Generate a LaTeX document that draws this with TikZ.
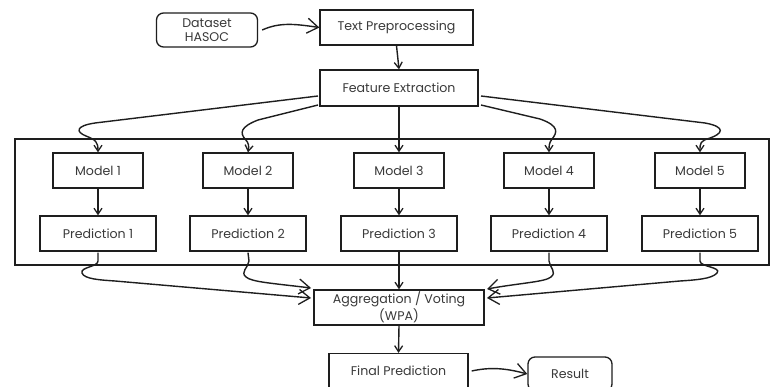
\documentclass[tikz,border=0pt]{standalone}
\usepackage{fontspec}
\setmainfont{Poppins}
\usetikzlibrary{arrows.meta}
\definecolor{ink}{HTML}{1E1E1E}
\definecolor{txt}{HTML}{3A3A3A}
\tikzset{
  box/.style={draw=ink, line width=1.3pt, minimum height=35pt, inner sep=0pt, font=\fontsize{12.6}{14.5}\selectfont, text=txt, align=center},
  rbox/.style={box, rounded corners=7pt},
  conn/.style={draw=ink, line width=1.4pt, -{Straight Barb[length=6pt,width=8pt,line width=1.3pt]}},
  bigconn/.style={draw=ink, line width=1.4pt, -{Straight Barb[length=11pt,width=15pt,line width=1.3pt]}},
}
\begin{document}
\begin{tikzpicture}[x=1pt,y=-1pt]
\useasboundingbox (0,0) rectangle (770,387);
\fill[white] (0,0) rectangle (770,387);
% container
\node[draw=ink, line width=1.3pt, minimum width=754pt, minimum height=126pt, inner sep=0pt] (cont) at (392,202) {};
% top nodes
\node[rbox, minimum width=101pt, minimum height=34pt] (ds) at (207,30) {Dataset\\HASOC};
\node[box, minimum width=153pt] (tp) at (396.5,27.5) {Text Preprocessing};
\node[box, minimum width=158pt, minimum height=36pt] (fe) at (399,88) {Feature Extraction};
% models and predictions
\foreach \i/\x in {1/98,2/248,3/399,4/549,5/700}{
  \node[box, minimum width=90pt] (m\i) at (\x,170.5) {Model \i};
  \node[box, minimum width=116pt] (p\i) at (\x,233.5) {Prediction \i};
}
\node[box, minimum width=170pt] (agg) at (399,307.5) {Aggregation / Voting\\[1pt](WPA)};
\node[box, minimum width=139pt] (fin) at (398.5,371) {Final Prediction};
\node[rbox, minimum width=84pt, minimum height=34pt] (res) at (570,374) {Result};
% coordinates for connector ends
\coordinate (fel1) at (318,96);
\coordinate (fel2) at (318,105);
\coordinate (fer1) at (481,96);
\coordinate (fer2) at (481,105);
\coordinate (agl1) at (311,288);
\coordinate (agl2) at (311,298);
\coordinate (agr1) at (487,289);
\coordinate (agr2) at (487,298);
% top connectors
\draw[bigconn] (ds.east) ++(4,0) coordinate (dse) .. controls (280,22) and (295,24) .. (tp.west);
\draw[conn] (tp.south) -- (fe.north);
% feature extraction to models
\draw[conn] (fel1) -- (95,123) .. controls (75,126) and (76,132) .. (86,136) .. controls (96,140) and (98,142) .. (m1.north);
\draw[conn] (fel2) -- (258,120) .. controls (240,127) and (240,133) .. (245,139) .. controls (249,143) and (249,146) .. (m2.north);
\draw[conn] (fe.south) -- (m3.north);
\draw[conn] (fer2) -- (540,119) .. controls (560,126) and (557,133) .. (552,139) .. controls (549,143) and (549,146) .. (m4.north);
\draw[conn] (fer1) -- (705,123) .. controls (727,127) and (722,134) .. (710,138) .. controls (700,141) and (700,143) .. (m5.north);
% model to prediction
\foreach \i in {1,...,5}{\draw[conn] (m\i.south) -- (p\i.north);}
% predictions to aggregation
\draw[bigconn] (p1.south) ++(0,1) -- (98,261) .. controls (98,267) and (80,267) .. (82,273) .. controls (84,279) and (100,280) .. (115,281) -- (agl2);
\draw[bigconn] (p2.south) ++(0,1) -- (249,261) .. controls (248,268) and (240,272) .. (246,277) .. controls (252,282) and (270,283) .. (agl1);
\draw[conn] (p3.south) -- (agg.north);
\draw[bigconn] (p4.south) ++(0,1) -- (549,261) .. controls (550,268) and (557,272) .. (551,277) .. controls (545,282) and (520,283) .. (agr1);
\draw[bigconn] (p5.south) ++(0,1) -- (700,261) .. controls (700,267) and (722,267) .. (717,273) .. controls (712,279) and (695,280) .. (680,281) -- (agr2);
% final
\draw[conn] (agg.south) -- (fin.north);
\draw[bigconn] (fin.east) ++(3,0) .. controls (490,367) and (505,368) .. (res.west);
\end{tikzpicture}
\end{document}
